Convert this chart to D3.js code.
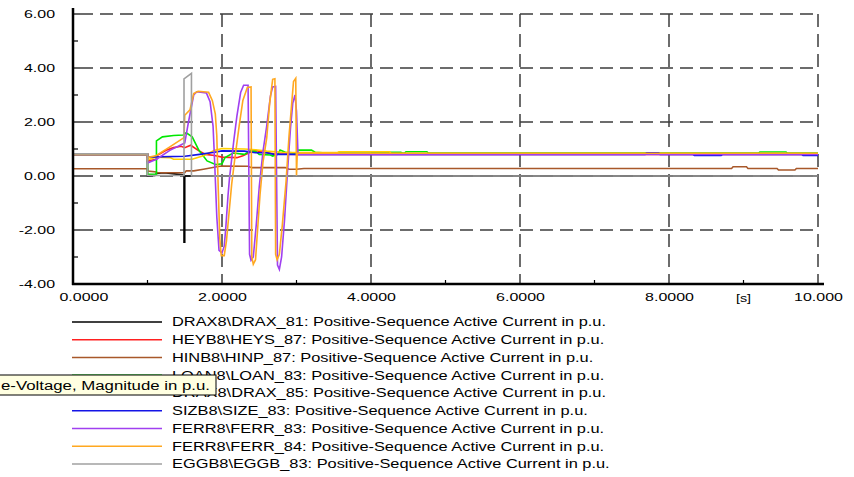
<!DOCTYPE html>
<html><head><meta charset="utf-8">
<script src="https://cdn.jsdelivr.net/npm/d3@7/dist/d3.min.js"></script>
<style>body{margin:0;background:#fff;overflow:hidden}svg{display:block}</style>
</head><body><svg id="c" width="854" height="477"></svg>
<script>
// ---------- data ----------
const xTicks = [0, 2, 4, 6, 8, 10];
const xTickLabels = ["0.0000", "2.0000", "4.0000", "6.0000", "8.0000", "10.000"];
const xMinor = [1, 3, 5, 7, 9];
const yTicks = [6, 4, 2, 0, -2, -4];
const yTickLabels = ["6.00", "4.00", "2.00", "0.00", "-2.00", "-4.00"];
const yMinor = [5, 3, 1, -1, -3];
const xUnit = "[s]";
const xUnitPos = 9;

const seriesNames = [
  "DRAX8\\DRAX_81: Positive-Sequence Active Current in p.u.",
  "HEYB8\\HEYS_87: Positive-Sequence Active Current in p.u.",
  "HINB8\\HINP_87: Positive-Sequence Active Current in p.u.",
  "LOAN8\\LOAN_83: Positive-Sequence Active Current in p.u.",
  "DRAX8\\DRAX_85: Positive-Sequence Active Current in p.u.",
  "SIZB8\\SIZE_83: Positive-Sequence Active Current in p.u.",
  "FERR8\\FERR_83: Positive-Sequence Active Current in p.u.",
  "FERR8\\FERR_84: Positive-Sequence Active Current in p.u.",
  "EGGB8\\EGGB_83: Positive-Sequence Active Current in p.u."
];
const seriesColors = ["#000000", "#ff2020", "#a8582a", "#00e800", "#ffd000", "#1414e6", "#a040f0", "#ffa820", "#a0a0a0"];

const DRAX_81 = [[0,0.80],[1.0,0.80],[1.0,0.0],[1.1,0.02],[1.12,0.09],[1.22,0.12],[1.28,0.10],[1.36,0.08],[1.45,0.05],[1.49,0.03],[1.49,-2.45],[1.5,-2.45],[1.5,0],[10,0]];
const HEYS_87 = [[0,0.80],[1.0,0.80],[1.0,0.55],[1.12,0.62],[1.12,0.75],[1.25,0.95],[1.35,1.05],[1.45,1.10],[1.5,1.05],[1.58,1.14],[1.68,0.95],[1.78,0.80],[1.9,0.76],[2.0,0.70],[2.2,0.68],[2.28,0.75],[2.38,0.88],[2.45,0.95],[2.55,0.88],[2.7,0.82],[3.0,0.80],[10,0.80]];
const HINP_87 = [[0,0.27],[1.0,0.27],[1.0,0.18],[1.12,0.15],[1.12,0.12],[1.5,0.12],[1.52,0.19],[1.62,0.19],[1.75,0.25],[1.95,0.35],[2.0,0.37],[2.35,0.36],[2.4,0.31],[2.85,0.31],[2.9,0.25],[3.0,0.25],[3.1,0.28],[8.84,0.28],[8.86,0.34],[9.04,0.34],[9.06,0.28],[9.45,0.28],[9.47,0.22],[9.69,0.22],[9.71,0.28],[10,0.28]];
const LOAN_83 = [[0,0.80],[1.0,0.80],[1.0,0.06],[1.12,0.06],[1.12,1.30],[1.2,1.45],[1.35,1.50],[1.48,1.52],[1.52,1.60],[1.6,1.45],[1.69,0.95],[1.8,0.56],[1.92,0.42],[2.0,0.45],[2.04,0.68],[2.15,0.85],[2.3,0.80],[2.38,0.93],[2.45,0.92],[2.5,0.80],[2.65,0.78],[2.68,0.74],[2.75,0.80],[2.78,0.96],[2.85,0.88],[3.0,0.85],[3.02,0.96],[3.2,0.96],[3.25,0.88],[3.4,0.85],[4.0,0.85],[4.02,0.88],[4.4,0.88],[4.42,0.85],[4.45,0.85],[4.47,0.90],[4.75,0.90],[4.77,0.85],[9.2,0.85],[9.22,0.89],[9.57,0.89],[9.59,0.85],[10,0.85]];
const DRAX_85 = [[0,0.80],[1.0,0.80],[1.0,0.60],[1.12,0.70],[1.3,0.68],[1.35,0.62],[1.6,0.62],[1.75,0.75],[1.9,0.95],[2.0,1.02],[2.3,1.00],[2.45,0.97],[2.6,0.92],[2.8,0.88],[3.0,0.87],[3.55,0.87],[3.57,0.90],[4.25,0.90],[4.27,0.83],[10,0.83]];
const SIZE_83 = [[0,0.80],[1.0,0.80],[1.0,0.70],[1.5,0.73],[1.7,0.80],[1.9,0.88],[2.0,0.93],[2.3,0.92],[2.45,0.86],[2.6,0.86],[2.7,0.80],[7.68,0.80],[7.7,0.86],[7.86,0.86],[7.88,0.80],[8.32,0.80],[8.34,0.76],[8.7,0.76],[8.72,0.80],[9.78,0.80],[9.8,0.76],[10,0.76]];
const FERR_83 = [[0,0.80],[1.0,0.80],[1.0,0.48],[1.12,0.62],[1.3,0.95],[1.5,1.22],[1.55,2.0],[1.62,3.0],[1.66,3.12],[1.79,3.08],[1.84,2.75],[1.88,1.85],[1.9,0.6],[1.93,-1.5],[1.96,-2.75],[2.0,-2.85],[2.03,-2.6],[2.05,-1.95],[2.08,-0.75],[2.1,-0.1],[2.16,1.35],[2.2,2.22],[2.25,3.09],[2.29,3.36],[2.35,3.36],[2.37,-2.9],[2.39,-3.12],[2.42,-3.0],[2.46,-1.8],[2.5,-0.4],[2.55,0.9],[2.6,1.85],[2.65,2.96],[2.68,3.3],[2.72,3.32],[2.745,-3.3],[2.77,-3.46],[2.8,-3.0],[2.84,-1.6],[2.88,0.2],[2.92,1.8],[2.95,2.7],[2.98,3.0],[3.0,2.4],[3.02,0.8],[10,0.80]];
const FERR_84 = [[0,0.80],[1.0,0.80],[1.0,0.68],[1.12,0.76],[1.3,1.08],[1.49,1.42],[1.5,2.25],[1.57,2.45],[1.62,3.05],[1.68,3.14],[1.82,3.10],[1.87,2.8],[1.91,2.3],[1.93,1.5],[1.95,-0.5],[1.97,-2.3],[1.99,-2.95],[2.03,-2.95],[2.06,-2.4],[2.09,-1.5],[2.13,-0.3],[2.17,0.6],[2.23,1.85],[2.28,2.8],[2.34,3.28],[2.39,3.3],[2.4,-3.0],[2.42,-3.27],[2.45,-3.1],[2.48,-1.9],[2.51,-0.7],[2.55,0.5],[2.6,1.4],[2.64,2.7],[2.68,3.58],[2.71,3.6],[2.72,-2.9],[2.74,-3.1],[2.77,-2.9],[2.81,-1.8],[2.86,-0.2],[2.9,1.5],[2.93,2.5],[2.96,3.5],[2.99,3.62],[3.0,0.0],[3.01,0.84],[10,0.84]];
const EGGB_83 = [[0,0.82],[1.0,0.82],[1.0,0.02],[1.49,0.02],[1.49,3.60],[1.59,3.80],[1.59,0.0],[10,0.0]];

const seriesData = [DRAX_81, HEYS_87, HINP_87, LOAN_83, DRAX_85, SIZE_83, FERR_83, FERR_84, EGGB_83];
const tooltipText = "e-Voltage, Magnitude in p.u.";

// ---------- drawing ----------
const svg = d3.select("#c");
const FONT = "'Liberation Sans', Arial, sans-serif";
const x = d3.scaleLinear().domain([0, 10]).range([73, 818]);
const y = d3.scaleLinear().domain([-4, 6]).range([284, 14]);

function stretch(sel, factor) {
  sel.each(function () {
    const w = this.getComputedTextLength();
    this.setAttribute("textLength", w * factor);
    this.setAttribute("lengthAdjust", "spacingAndGlyphs");
  });
}

// grid
const grid = svg.append("g").attr("stroke", "#3c3c3c").attr("stroke-width", 1.5)
  .attr("stroke-dasharray", "13,7").attr("fill", "none");
grid.selectAll("line.h").data(yTicks.filter(d => d > -4)).join("line")
  .attr("x1", x(0) + 7).attr("x2", x(10)).attr("y1", d => y(d)).attr("y2", d => y(d));
grid.selectAll("line.v").data(xTicks.filter(d => d > 0)).join("line")
  .attr("x1", d => x(d)).attr("x2", d => x(d)).attr("y1", y(6)).attr("y2", y(-4));

// series
const line = d3.line().x(d => x(d[0])).y(d => y(d[1]));
svg.append("g").selectAll("path").data(seriesData).join("path")
  .attr("d", line).attr("fill", "none")
  .attr("stroke", (d, i) => seriesColors[i]).attr("stroke-width", 1.6)
  .attr("stroke-linejoin", "miter");

// axes
const yAxis = d3.axisLeft(y).tickValues(yTicks).tickFormat((d, i) => yTickLabels[i]).tickSize(0).tickPadding(18);
const gy = svg.append("g").attr("transform", `translate(${x(0)},0)`).call(yAxis);
gy.select(".domain").remove();
gy.selectAll("text").attr("font-family", FONT).attr("font-size", 11).attr("fill", "#000");
stretch(gy.selectAll("text"), 1.45);

const xAxis = d3.axisBottom(x).tickValues(xTicks).tickFormat((d, i) => xTickLabels[i]).tickSize(0).tickPadding(9);
const gx = svg.append("g").attr("transform", `translate(0,${y(-4)})`).call(xAxis);
gx.select(".domain").remove();
gx.selectAll("text").attr("font-family", FONT).attr("font-size", 11).attr("fill", "#000");
stretch(gx.selectAll("text"), 1.45);
gx.selectAll("text").filter(d => d === 0).attr("text-anchor", "start").attr("x", -14);
const unit = svg.append("text").attr("x", x(xUnitPos)).attr("y", y(-4) + 18).attr("text-anchor", "middle")
  .attr("font-family", FONT).attr("font-size", 11).attr("fill", "#000").text(xUnit);
stretch(unit, 1.3);

// minor & major ticks
const tk = svg.append("g").attr("stroke", "#000").attr("stroke-width", 1.2);
tk.selectAll("line.ym").data(yMinor).join("line")
  .attr("x1", x(0)).attr("x2", x(0) + 5).attr("y1", d => y(d)).attr("y2", d => y(d));
tk.selectAll("line.yM").data(yTicks).join("line")
  .attr("x1", x(0)).attr("x2", x(0) + 7).attr("y1", d => y(d)).attr("y2", d => y(d));
tk.selectAll("line.xm").data(xMinor).join("line")
  .attr("x1", d => x(d)).attr("x2", d => x(d)).attr("y1", y(-4)).attr("y2", y(-4) - 4);

// axis lines
svg.append("line").attr("x1", x(0)).attr("x2", x(0)).attr("y1", y(6) - 6).attr("y2", y(-4) + 1)
  .attr("stroke", "#000").attr("stroke-width", 2.5);
svg.append("line").attr("x1", x(0) - 1).attr("x2", x(10) + 6).attr("y1", y(-4)).attr("y2", y(-4))
  .attr("stroke", "#000").attr("stroke-width", 2.5);

// legend
const legTop = 322, legStep = 17.75;
const leg = svg.append("g");
const rows = leg.selectAll("g").data(seriesNames).join("g")
  .attr("transform", (d, i) => `translate(0,${legTop + i * legStep})`);
rows.append("line").attr("x1", 72).attr("x2", 162).attr("y1", 0).attr("y2", 0)
  .attr("stroke", (d, i) => seriesColors[i]).attr("stroke-width", 1.4);
const lt = rows.append("text").attr("x", 172).attr("dy", "0.36em")
  .attr("font-family", FONT).attr("font-size", 12).attr("fill", "#000").text(d => d);
const w0 = lt.node().getComputedTextLength();
stretch(lt, 434 / w0);

// tooltip
svg.append("rect").attr("x", -1).attr("y", 375).attr("width", 217).attr("height", 20)
  .attr("fill", "#ffffe1").attr("stroke", "#000").attr("stroke-width", 1);
const tt = svg.append("text").attr("x", 1).attr("y", 390).attr("font-family", FONT)
  .attr("font-size", 12).attr("fill", "#000").text(tooltipText);
stretch(tt, 209 / tt.node().getComputedTextLength());
</script></body></html>
